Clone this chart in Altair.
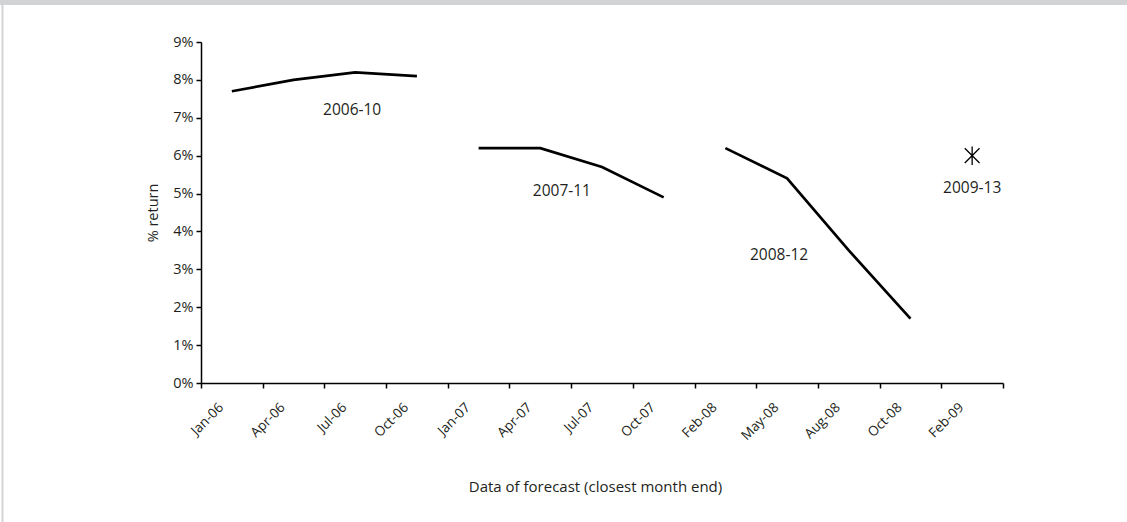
import altair as alt
import pandas as pd

cats = ["Jan-06", "Apr-06", "Jul-06", "Oct-06", "Jan-07", "Apr-07", "Jul-07",
        "Oct-07", "Feb-08", "May-08", "Aug-08", "Oct-08", "Feb-09"]

s2006_x = ["Jan-06", "Apr-06", "Jul-06", "Oct-06"]
s2006_y = [7.7, 8.0, 8.2, 8.1]
s2007_x = ["Jan-07", "Apr-07", "Jul-07", "Oct-07"]
s2007_y = [6.2, 6.2, 5.7, 4.9]
s2008_x = ["Feb-08", "May-08", "Aug-08", "Oct-08"]
s2008_y = [6.2, 5.4, 3.5, 1.7]
s2009_x = ["Feb-09"]
s2009_y = [6.0]

label_text = ["2006-10", "2007-11", "2008-12", "2009-13"]
label_pos = [1.95, 5.35, 8.87, 12.0]
label_y = [7.2, 5.07, 3.38, 5.15]

rows = []
for name, xs, ys in [("2006-10", s2006_x, s2006_y), ("2007-11", s2007_x, s2007_y),
                     ("2008-12", s2008_x, s2008_y)]:
    for x, y in zip(xs, ys):
        rows.append({"series": name, "date": x, "ret": y})
lines_df = pd.DataFrame(rows)
star_df = pd.DataFrame({"date": s2009_x, "ret": s2009_y})
labels_df = pd.DataFrame({"text": label_text, "pos": label_pos, "ret": label_y})

FONT = "Open Sans"
TXT = "#231f20"
W, H = 802, 341

yscale = alt.Scale(domain=[0, 9], nice=False, zero=True)
yaxis = alt.Axis(values=list(range(10)), labelExpr="datum.value + '%'", grid=False,
                 labelOverlap=False,
                 domainColor="black", domainWidth=1.5, tickColor="black", tickWidth=1.5,
                 tickSize=5, labelFont=FONT, labelFontSize=14.5, labelColor=TXT,
                 labelPadding=3, title="% return", titleFont=FONT, titleFontSize=14.5,
                 titleFontWeight="normal", titleColor=TXT, titlePadding=12)

xscale = alt.Scale(domain=cats, paddingInner=0, paddingOuter=0)
xband = alt.X("date:N", sort=cats, scale=xscale,
              axis=alt.Axis(tickBand="extent", labelAngle=-45, grid=False, domainColor="black",
                            domainWidth=1.5, tickColor="black", tickWidth=1.5, tickSize=5,
                            labelFont=FONT, labelFontSize=13.5, labelColor=TXT, labelPadding=12,
                            labelOffset=-16,
                            title="Data of forecast (closest month end)", titleFont=FONT,
                            titleFontSize=15, titleFontWeight="normal", titleColor=TXT,
                            titleX=394, titleY=96, titleAlign="center"))

lines = alt.Chart(lines_df).mark_line(color="black", strokeWidth=2.7).encode(
    x=xband,
    y=alt.Y("ret:Q", scale=yscale, axis=yaxis),
    detail="series:N",
)

star = alt.Chart(star_df).mark_point(
    shape="M-0.8,-0.8L0.8,0.8M0.8,-0.8L-0.8,0.8M0,-1L0,1",
    filled=False, stroke="black", strokeWidth=1.3, size=340, opacity=1,
).encode(
    x=alt.X("date:N", sort=cats, scale=xscale, axis=None),
    y=alt.Y("ret:Q", scale=yscale, axis=yaxis),
)

texts = alt.Chart(labels_df).mark_text(font=FONT, fontSize=15.5, color=TXT).encode(
    x=alt.X("pos:Q", scale=alt.Scale(domain=[-0.5, 12.5], nice=False, zero=False), axis=None),
    y=alt.Y("ret:Q", scale=yscale, axis=yaxis),
    text="text:N",
)

one = alt.Data(values=[{"a": 1}])
top_band = alt.Chart(one).mark_rule(color="#d1d3d4", strokeWidth=5).encode(
    x=alt.value(-201), x2=alt.value(926), y=alt.value(-39.5))
left_line = alt.Chart(one).mark_rule(color="#d1d3d4", strokeWidth=2).encode(
    x=alt.value(-198.5), y=alt.value(-37), y2=alt.value(480))

chart = alt.layer(lines, star, texts, top_band, left_line).resolve_scale(
    x="independent"
).properties(
    width=W, height=H,
    autosize=alt.AutoSizeParams(type="none"),
    padding={"left": 201, "top": 42, "right": 124, "bottom": 139},
    background="white",
).configure_view(stroke=None)

chart.save("out.html", embed_options={"renderer": "svg", "actions": False})
